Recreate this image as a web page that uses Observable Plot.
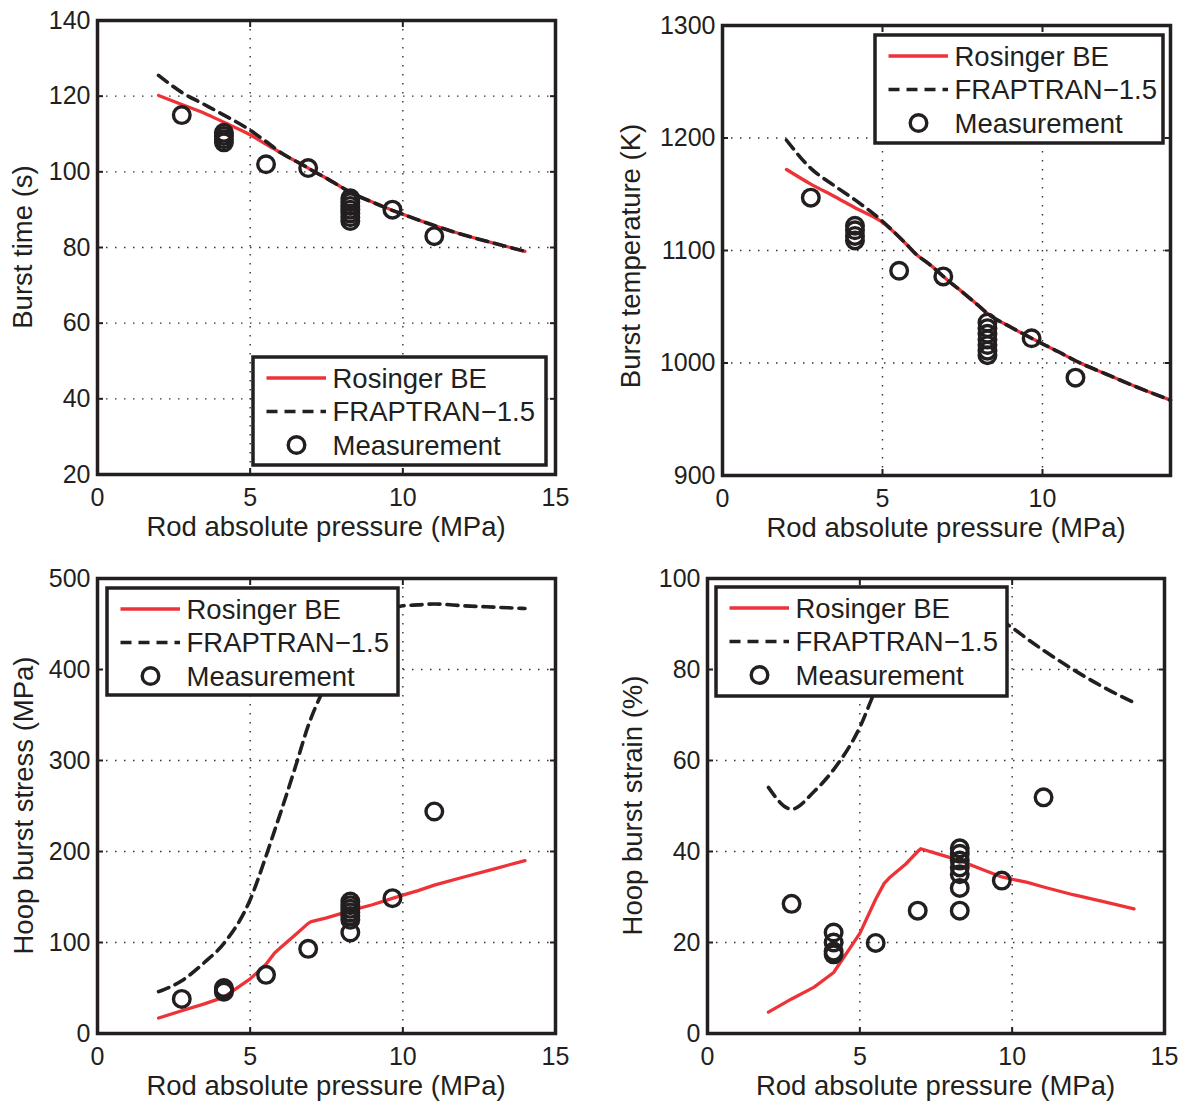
<!DOCTYPE html>
<html>
<head>
<meta charset="utf-8">
<script src="https://cdn.jsdelivr.net/npm/d3@7"></script>
<script src="https://cdn.jsdelivr.net/npm/@observablehq/plot@0.6"></script>
<style>
  body { margin: 0; background: #fff; }
  #fig { position: relative; width: 1188px; height: 1104px; }
  .panel { position: absolute; }
</style>
</head>
<body>
<div id="fig"></div>
<script>
// ---- Model curves, sampled on a common pressure grid (MPa) ----
const modelPressure = [2, 2.76, 3.5, 4.14, 5, 5.52, 5.8, 6, 6.5, 6.9, 7, 7.5, 8, 8.28, 9, 9.66, 10, 10.5, 11.03, 12, 13, 14];

const timeRosinger  = [120.2, 117.8, 115.5, 113.1, 109.8, 107.3, 106, 105, 102.8, 101, 100.5, 98.3, 95.9, 94.6, 92, 89.8, 88.8, 87.3, 85.8, 83.3, 81.1, 79];
const timeFraptran  = [125.5, 121, 117.8, 115, 111, 108, 106.3, 105.1, 102.8, 101, 100.5, 98.3, 95.9, 94.6, 92, 89.8, 88.8, 87.3, 85.8, 83.3, 81.1, 79];

const tempRosinger  = [1172, 1159, 1148, 1138, 1125, 1112, 1104, 1098, 1087, 1077, 1074.5, 1063, 1051, 1044, 1032, 1022, 1017, 1010, 1002, 990, 978, 967];
const tempFraptran  = [1198, 1173, 1157.5, 1145, 1126, 1112, 1104, 1098, 1087, 1077, 1074.5, 1063, 1051, 1044, 1032, 1022, 1017, 1010, 1002, 990, 978, 967];

const stressRosinger = [17, 25, 32.5, 40, 60, 76, 88.5, 94.5, 109, 121, 123, 127, 132, 135, 141.5, 148.5, 152, 157, 163, 172, 181, 190];
const stressFraptran = [46, 58, 78, 99, 147, 195, 223, 243, 295, 338, 347, 385, 420, 436, 458, 467, 470, 471, 472, 470, 468.5, 467];

const strainRosinger = [4.7, 7.6, 10.2, 13.4, 22, 29.5, 33, 34.4, 37.2, 40, 40.6, 39.6, 38.6, 38, 36.1, 34.4, 33.9, 33.2, 32.2, 30.5, 29, 27.4];
const strainFraptran = [54.1, 49.3, 53.2, 58, 67.3, 75.5, 79, 81.5, 86, 88.5, 89, 91, 92, 92.2, 92, 90.7, 89.2, 86.7, 84.2, 80, 76.1, 72.7];

// ---- Measurements ----
const measPressure = [2.76, 4.14, 4.14, 4.14, 4.14, 5.52, 6.90, 8.28, 8.28, 8.28, 8.28, 8.28, 8.28, 8.28, 9.66, 11.03];
const measTime   = [115, 110.3, 109.5, 108.6, 107.8, 102, 101, 93, 92, 91, 90, 89, 88, 87, 90, 83];
const measTemp   = [1147, 1122, 1118, 1113, 1109, 1082, 1077, 1036, 1031, 1026, 1021, 1016, 1011, 1007, 1022, 987];
const measStress = [38, 50, 48.5, 47, 46, 64.5, 93, 145, 141, 137, 133, 129, 125, 111, 148.7, 244];
const measStrain = [28.5, 22.2, 20, 18, 17.4, 19.9, 27, 40.7, 39.5, 38, 36.5, 35, 32, 27, 33.6, 51.9];

// ---- Axis ticks and labels ----
const xTicks15 = [0, 5, 10, 15];
const xTicks14 = [0, 5, 10];
const timeTicks   = [20, 40, 60, 80, 100, 120, 140];
const tempTicks   = [900, 1000, 1100, 1200, 1300];
const stressTicks = [0, 100, 200, 300, 400, 500];
const strainTicks = [0, 20, 40, 60, 80, 100];

const xTitle = "Rod absolute pressure (MPa)";
const seriesNames = ["Rosinger BE", "FRAPTRAN\u22121.5", "Measurement"];

const ink = "#231f20";
const red = "#ed3338";
const font = "'Liberation Sans', Arial, Helvetica, sans-serif";
const dash = "11,7";
const plain = d => String(d);

function panel(cfg) {
  const rosinger = modelPressure.map((p, i) => ({p, v: cfg.rosinger[i]}));
  const fraptran = modelPressure.map((p, i) => ({p, v: cfg.fraptran[i]}));
  const meas = measPressure.map((p, i) => ({p, v: cfg.meas[i]}));
  const [ml, mr, mt, mb] = cfg.margins;
  const inward = {tickSize: -6, fill: "none", tickFormat: () => "", strokeWidth: 2, label: null};

  const chart = Plot.plot({
    width: cfg.width,
    height: cfg.height,
    marginLeft: ml, marginRight: mr, marginTop: mt, marginBottom: mb,
    x: {domain: cfg.xDomain, label: null},
    y: {domain: cfg.yDomain, label: null},
    style: {fontFamily: font, fontSize: "25px", color: ink, background: "transparent", overflow: "visible"},
    marks: [
      Plot.gridX(cfg.xTicks, {stroke: "#333", strokeOpacity: 1, strokeWidth: 1.4, strokeDasharray: "1.5,7.5"}),
      Plot.gridY(cfg.yTicks, {stroke: "#333", strokeOpacity: 1, strokeWidth: 1.4, strokeDasharray: "1.5,7.5"}),
      Plot.line(rosinger, {x: "p", y: "v", stroke: red, strokeWidth: 3.3, curve: cfg.rosingerCurve}),
      Plot.line(fraptran, {x: "p", y: "v", stroke: ink, strokeWidth: 3.6, strokeDasharray: dash, curve: "monotone-x"}),
      Plot.dot(meas, {x: "p", y: "v", r: 8.3, stroke: ink, strokeWidth: 3.4, fill: "none"}),
      // tick labels
      Plot.axisX(cfg.xTicks, {anchor: "bottom", tickSize: 0, tickPadding: 14, fontSize: 25, tickFormat: plain, label: null}),
      Plot.axisY(cfg.yTicks, {anchor: "left", tickSize: 0, tickPadding: 7, fontSize: 25, tickFormat: plain, label: null}),
      // inward tick marks on all four sides
      Plot.axisX(cfg.xTicks, {anchor: "bottom", ...inward}),
      Plot.axisX(cfg.xTicks, {anchor: "top", ...inward}),
      Plot.axisY(cfg.yTicks, {anchor: "left", ...inward}),
      Plot.axisY(cfg.yTicks, {anchor: "right", ...inward}),
      Plot.frame({stroke: ink, strokeWidth: 3.5})
    ]
  });

  const svg = d3.select(chart);
  const frameBottom = cfg.height - mb;
  const frameMidY = (mt + cfg.height - mb) / 2 + (cfg.yTitleDy || 0);

  // axis titles
  svg.append("text")
    .attr("x", (ml + cfg.width - mr) / 2).attr("y", frameBottom + 62)
    .attr("text-anchor", "middle").attr("font-family", font).attr("font-size", 27.5).attr("fill", ink)
    .text(xTitle);
  svg.append("text")
    .attr("transform", `translate(${ml + cfg.yTitleDx},${frameMidY}) rotate(-90)`)
    .attr("text-anchor", "middle").attr("font-family", font).attr("font-size", 27.5).attr("fill", ink)
    .text(cfg.yTitle);

  // legend box drawn over the plotting area
  const b = cfg.legend;
  const g = svg.append("g");
  g.append("rect")
    .attr("x", b.x).attr("y", b.y).attr("width", b.w).attr("height", b.h)
    .attr("fill", "white").attr("stroke", ink).attr("stroke-width", 3.5);
  const rowY = [21, 54.5, 88];
  seriesNames.forEach((name, i) => {
    const y = b.y + rowY[i];
    if (i === 0) {
      g.append("line").attr("x1", b.x + 13.5).attr("x2", b.x + 73).attr("y1", y).attr("y2", y)
        .attr("stroke", red).attr("stroke-width", 3.3);
    } else if (i === 1) {
      g.append("line").attr("x1", b.x + 13.5).attr("x2", b.x + 73).attr("y1", y).attr("y2", y)
        .attr("stroke", ink).attr("stroke-width", 3.6).attr("stroke-dasharray", dash);
    } else {
      g.append("circle").attr("cx", b.x + 43.5).attr("cy", y).attr("r", 8.3)
        .attr("fill", "none").attr("stroke", ink).attr("stroke-width", 3.4);
    }
    g.append("text").attr("x", b.x + 79.5).attr("y", y).attr("dy", "0.36em")
      .attr("text-anchor", "start")
      .attr("font-family", font).attr("font-size", 27.5).attr("fill", ink).text(name);
  });

  chart.classList.add("panel");
  chart.style.left = cfg.left + "px";
  chart.style.top = cfg.top + "px";
  document.getElementById("fig").appendChild(chart);
}

panel({
  left: 0, top: 0, width: 594, height: 545, margins: [97, 39, 20, 71],
  xDomain: [0, 15], xTicks: xTicks15, yDomain: [20, 140], yTicks: timeTicks,
  rosinger: timeRosinger, fraptran: timeFraptran, meas: measTime, rosingerCurve: "monotone-x",
  yTitle: "Burst time (s)", yTitleDx: -65,
  legend: {x: 253, y: 357, w: 293, h: 108}
});

panel({
  left: 594, top: 0, width: 594, height: 545, margins: [128, 18, 25, 70],
  xDomain: [0, 14], xTicks: xTicks14, yDomain: [900, 1300], yTicks: tempTicks,
  rosinger: tempRosinger, fraptran: tempFraptran, meas: measTemp, rosingerCurve: "monotone-x",
  yTitle: "Burst temperature (K)", yTitleDx: -82, yTitleDy: 6,
  legend: {x: 281, y: 35, w: 288, h: 108}
});

panel({
  left: 0, top: 545, width: 594, height: 559, margins: [97, 39, 33, 71],
  xDomain: [0, 15], xTicks: xTicks15, yDomain: [0, 500], yTicks: stressTicks,
  rosinger: stressRosinger, fraptran: stressFraptran, meas: measStress, rosingerCurve: "linear",
  yTitle: "Hoop burst stress (MPa)", yTitleDx: -64,
  legend: {x: 107, y: 43, w: 291, h: 107}
});

panel({
  left: 594, top: 545, width: 594, height: 559, margins: [113, 24, 33, 71],
  xDomain: [0, 15], xTicks: xTicks15, yDomain: [0, 100], yTicks: strainTicks,
  rosinger: strainRosinger, fraptran: strainFraptran, meas: measStrain, rosingerCurve: "linear",
  yTitle: "Hoop burst strain (%)", yTitleDx: -65,
  legend: {x: 122, y: 42, w: 291, h: 109}
});
</script>
</body>
</html>
